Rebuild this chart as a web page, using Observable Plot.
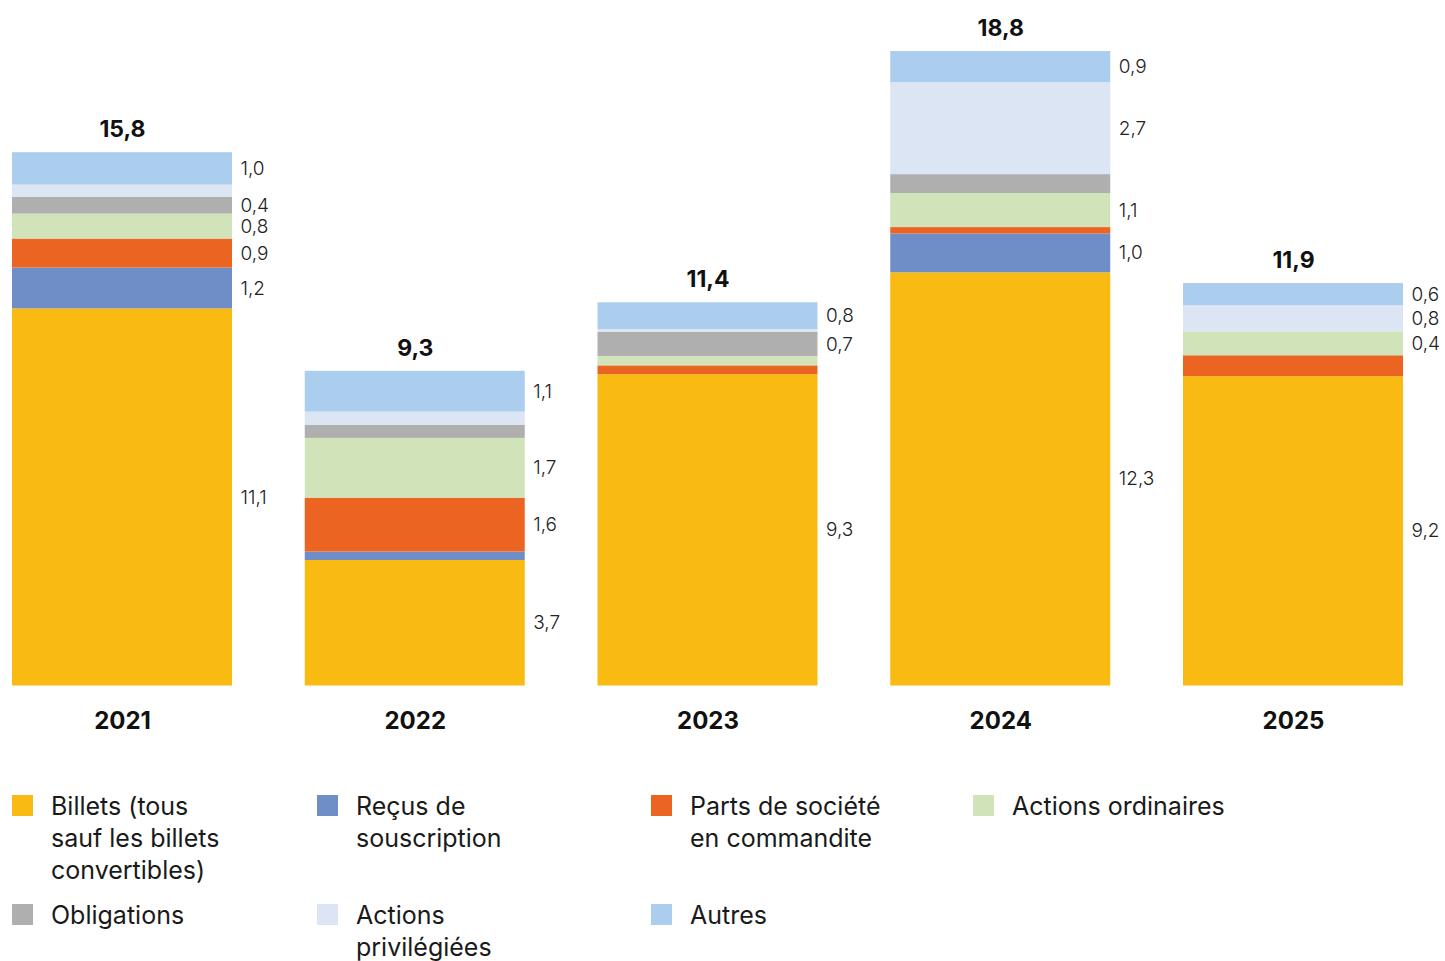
<!DOCTYPE html>
<html>
<head>
<meta charset="utf-8">
<script src="https://cdn.jsdelivr.net/npm/d3@7"></script>
<script src="https://cdn.jsdelivr.net/npm/@observablehq/plot@0.6"></script>
<style>
  body { margin: 0; background: #fff; font-family: Inter, "Noto Sans", sans-serif; color: #111; }
  #wrap { position: relative; width: 1445px; height: 961px; }
  #chart { position: absolute; left: 0; top: 0; }
  .item { position: absolute; font-size: 25px; line-height: 32px; color: #1a1a1a; }
  .sw { position: absolute; left: 0; top: 5px; width: 21px; height: 21px; }
  .tx { position: absolute; left: 39px; top: 0; white-space: nowrap; }
</style>
</head>
<body>
<div id="wrap">
  <div id="chart"></div>
  <div id="legend"></div>
</div>
<script>
const years = ["2021", "2022", "2023", "2024", "2025"];
const seriesNames = [
  "Billets (tous sauf les billets convertibles)",
  "Reçus de souscription",
  "Parts de société en commandite",
  "Actions ordinaires",
  "Obligations",
  "Actions privilégiées",
  "Autres"
];
const legendLines = [
  ["Billets (tous", "sauf les billets", "convertibles)"],
  ["Reçus de", "souscription"],
  ["Parts de société", "en commandite"],
  ["Actions ordinaires"],
  ["Obligations"],
  ["Actions", "privilégiées"],
  ["Autres"]
];
const colors = ["#F9BA12", "#6F8DC6", "#EC6422", "#D1E3B8", "#AFAFAF", "#DCE5F3", "#ABCDEE"];

// values (milliards) per year
const billets = [11.18, 3.72, 9.23, 12.25, 9.17];
const recus   = [1.21, 0.25, 0.00, 1.15, 0.00];
const parts   = [0.86, 1.60, 0.26, 0.19, 0.62];
const ordin   = [0.74, 1.77, 0.28, 1.01, 0.71];
const oblig   = [0.50, 0.39, 0.71, 0.56, 0.00];
const privil  = [0.36, 0.39, 0.09, 2.73, 0.77];
const autres  = [0.96, 1.21, 0.79, 0.92, 0.66];

// printed labels
const billetsLbl = ["11,1", "3,7", "9,3", "12,3", "9,2"];
const recusLbl   = ["1,2", "", "", "1,0", ""];
const partsLbl   = ["0,9", "1,6", "", "", ""];
const ordinLbl   = ["0,8", "1,7", "", "1,1", "0,4"];
const obligLbl   = ["0,4", "", "0,7", "", ""];
const privilLbl  = ["", "", "", "2,7", "0,8"];
const autresLbl  = ["1,0", "1,1", "0,8", "0,9", "0,6"];
const totalLbl   = ["15,8", "9,3", "11,4", "18,8", "11,9"];

const seriesValues = [billets, recus, parts, ordin, oblig, privil, autres];
const seriesLabels = [billetsLbl, recusLbl, partsLbl, ordinLbl, obligLbl, privilLbl, autresLbl];

const table = [];
seriesNames.forEach((s, i) => {
  years.forEach((y, j) => {
    table.push({year: y, series: s, value: seriesValues[i][j], label: seriesLabels[i][j]});
  });
});
const sums = years.map((y, j) => d3.sum(seriesValues, v => v[j]));
const totals = years.map((y, j) => ({year: y, total: sums[j], label: totalLbl[j]}));

const chart = Plot.plot({
  width: 1445,
  height: 760,
  marginTop: 51,
  marginBottom: 74.5,
  marginLeft: 12,
  marginRight: 42,
  style: {fontFamily: "Inter, 'Noto Sans', sans-serif", background: "transparent"},
  x: {domain: years, padding: 0.2485, paddingOuter: 0, round: false, axis: null},
  y: {domain: [0, d3.max(sums)], axis: null},
  color: {domain: seriesNames, range: colors},
  marks: [
    Plot.barY(table, {x: "year", y: "value", z: "series", fill: "series", order: seriesNames}),
    Plot.text(table, Plot.stackY({
      x: "year", y: "value", z: "series", order: seriesNames, text: "label",
      dx: 118, textAnchor: "start", fontSize: 19, fontWeight: 300, fill: "#222"
    })),
    Plot.text(totals, {x: "year", y: "total", text: "label", dy: -23, fontSize: 23, fontWeight: 700, fill: "#111"}),
    Plot.text(years, {x: d => d, y: () => 0, text: d => d, dy: 35, fontSize: 24, fontWeight: 700, fill: "#111"})
  ]
});
document.getElementById("chart").appendChild(chart);

// legend
const colX = [12, 317, 651, 973];
const rowY = [790, 899];
const legend = document.getElementById("legend");
seriesNames.forEach((s, i) => {
  const r = Math.floor(i / 4), c = i % 4;
  const it = document.createElement("div");
  it.className = "item";
  it.style.left = colX[c] + "px";
  it.style.top = rowY[r] + "px";
  const sw = document.createElement("div");
  sw.className = "sw";
  sw.style.background = colors[i];
  const tx = document.createElement("div");
  tx.className = "tx";
  legendLines[i].forEach((ln, k) => {
    if (k) tx.appendChild(document.createElement("br"));
    tx.appendChild(document.createTextNode(ln));
  });
  it.appendChild(sw);
  it.appendChild(tx);
  legend.appendChild(it);
});
</script>
</body>
</html>
